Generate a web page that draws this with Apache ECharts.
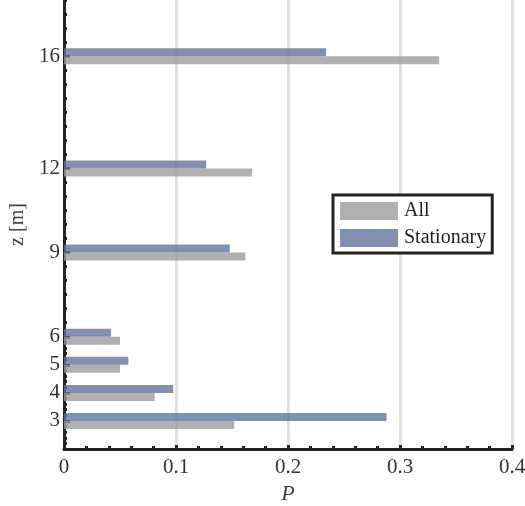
<!DOCTYPE html>
<html>
<head>
    <meta charset="utf-8">
    <script src="https://cdn.jsdelivr.net/npm/echarts@6/dist/echarts.min.js"></script>
    <style>
        html, body { margin: 0; padding: 0; background: #fff; }
        #chart { width: 525px; height: 506px; }
    </style>
</head>
<body>
<div id="chart"></div>
<script type="text/javascript">
    // heights (m) and probabilities
    var heights = [3, 4, 5, 6, 9, 12, 16];
    var allP = [0.152, 0.081, 0.050, 0.050, 0.162, 0.168, 0.335];
    var stationaryP = [0.288, 0.0975, 0.0575, 0.042, 0.148, 0.127, 0.234];
    var yTickLabels = [3, 4, 5, 6, 9, 12, 16];

    // dense minor ticks below 6 m, sparser above
    var yMinor = [];
    for (var v = 2; v < 6; v += 0.2) yMinor.push(+v.toFixed(1));
    for (var w = 6; w <= 18; w += 0.5) yMinor.push(w);

    var font = 'Liberation Serif';
    var barH = 8;

    function pairs(vals) {
        return vals.map(function (p, i) { return [p, heights[i]]; });
    }

    function barItem(side) {
        return function (params, api) {
            var end = api.coord([api.value(0), api.value(1)]);
            var start = api.coord([0, api.value(1)]);
            var y = side === 'up' ? end[1] - barH : end[1];
            return {
                type: 'rect',
                shape: { x: start[0], y: y, width: end[0] - start[0], height: barH },
                style: api.style()
            };
        };
    }

    var myChart = echarts.init(document.getElementById('chart'));
    var option = {
        animation: false,
        grid: { left: 64, right: 13, top: 0, bottom: 57, outerBoundsMode: 'none', containLabel: false },
        legend: {
            orient: 'vertical',
            left: 333,
            top: 195,
            padding: [6, 6, 5, 7],
            itemWidth: 58,
            itemHeight: 18,
            itemGap: 7,
            borderColor: '#222',
            borderWidth: 3,
            borderRadius: 0,
            backgroundColor: '#fff',
            icon: 'rect',
            textStyle: { fontFamily: font, fontSize: 20, color: '#222', padding: [0, 0, 0, 1] },
            data: ['All', 'Stationary']
        },
        xAxis: {
            type: 'value',
            min: 0,
            max: 0.4,
            interval: 0.1,
            name: 'P',
            nameLocation: 'middle',
            nameGap: 34,
            nameTextStyle: { fontFamily: font, fontSize: 22, fontStyle: 'italic', color: '#444' },
            axisLine: { show: true, lineStyle: { color: '#222', width: 3 } },
            axisTick: { show: true, inside: true, length: 4, lineStyle: { color: '#222', width: 3 } },
            minorTick: { show: true, splitNumber: 5, length: 3, lineStyle: { color: '#222', width: 3 } },
            axisLabel: { fontFamily: font, fontSize: 21, color: '#333', margin: 8 },
            splitLine: { show: true, lineStyle: { color: '#e0e0e0', width: 3 } }
        },
        yAxis: [{
            type: 'value',
            min: 2,
            max: 18,
            name: 'z [m]',
            nameLocation: 'middle',
            nameGap: 34,
            nameTextStyle: { fontFamily: font, fontSize: 20, color: '#444' },
            axisLine: { show: true, lineStyle: { color: '#222', width: 3 } },
            axisTick: { show: true, inside: true, length: 6, customValues: yTickLabels, lineStyle: { color: '#222', width: 3 } },
            axisLabel: { fontFamily: font, fontSize: 21, color: '#333', margin: 4, customValues: yTickLabels },
            splitLine: { show: false }
        }, {
            type: 'value',
            min: 2,
            max: 18,
            position: 'left',
            axisLine: { show: false },
            axisTick: { show: true, inside: true, length: 3, customValues: yMinor, lineStyle: { color: '#222', width: 3 } },
            axisLabel: { show: false },
            splitLine: { show: false }
        }],
        series: [{
            name: 'All',
            type: 'custom',
            renderItem: barItem('down'),
            itemStyle: { color: '#9c9c9c', opacity: 0.8 },
            encode: { x: 0, y: 1 },
            data: pairs(allP),
            z: 3
        }, {
            name: 'Stationary',
            type: 'custom',
            renderItem: barItem('up'),
            itemStyle: { color: '#60759d', opacity: 0.8 },
            encode: { x: 0, y: 1 },
            data: pairs(stationaryP),
            z: 3
        }]
    };
    myChart.setOption(option);
</script>
</body>
</html>
